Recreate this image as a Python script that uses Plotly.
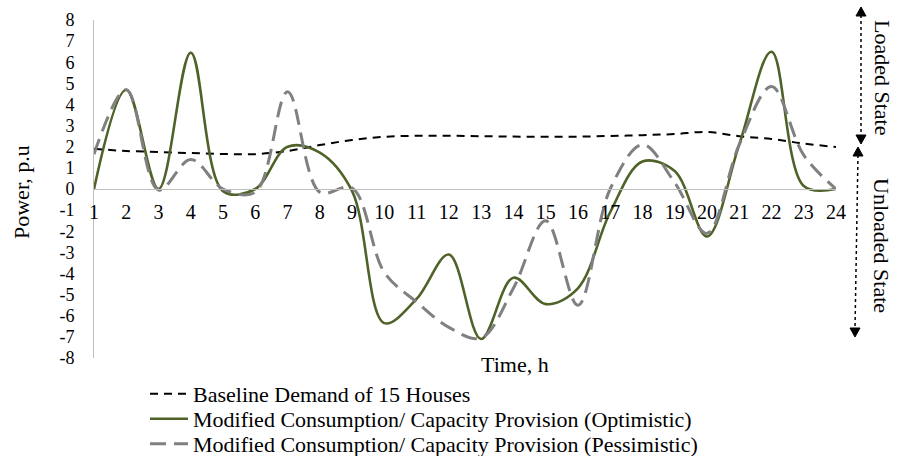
import plotly.graph_objects as go

# Hourly profile, 24 h
hours = list(range(1, 25))

baseline = [1.9, 1.8, 1.75, 1.7, 1.66, 1.65, 1.8, 2.08, 2.32, 2.47, 2.52, 2.52,
            2.5, 2.48, 2.47, 2.48, 2.51, 2.55, 2.6, 2.7, 2.5, 2.37, 2.15, 1.99]

optimistic = [0.0, 4.7, 0.0, 6.45, -0.1, 0.0, 2.0, 1.72, -0.1, -6.35, -5.2, -3.1,
              -7.1, -4.2, -5.45, -4.7, -1.1, 1.3, 0.85, -2.25, 2.1, 6.5, 0.14, 0.0]

pessimistic = [1.65, 4.7, -0.05, 1.4, 0.0, -0.15, 4.6, -0.15, 0.05, -3.95, -5.35, -6.55,
               -7.05, -4.7, -1.5, -5.5, 0.0, 2.1, 0.3, -2.1, 2.1, 4.85, 1.6, 0.0]

names = ["Baseline Demand of 15 Houses",
         "Modified Consumption/ Capacity Provision (Optimistic)",
         "Modified Consumption/ Capacity Provision (Pessimistic)"]

y_ticks = list(range(-8, 9))

W, H = 897, 456
ML, MR, MT, MB = 94, 61, 20, 98
PW, PH = W - ML - MR, H - MT - MB
FONT = "Liberation Serif, Times New Roman, serif"


def px(x):
    return (x - ML) / PW


def py(y):
    return (H - MB - y) / PH


fig = go.Figure()
fig.add_trace(go.Scatter(x=hours, y=baseline, name=names[0], mode="lines",
                         line=dict(color="#000000", width=2, dash="8px,6px",
                                   shape="spline", smoothing=1),
                         legend="legend"))
fig.add_trace(go.Scatter(x=hours, y=optimistic, name=names[1], mode="lines",
                         line=dict(color="#4f6228", width=2.6,
                                   shape="spline", smoothing=1),
                         legend="legend2"))
fig.add_trace(go.Scatter(x=hours, y=pessimistic, name=names[2], mode="lines",
                         line=dict(color="#808080", width=3, dash="16px,8px",
                                   shape="spline", smoothing=1),
                         legend="legend3"))

legend_common = dict(font=dict(family=FONT, size=22, color="#000000"),
                     bgcolor="rgba(0,0,0,0)", xanchor="left", yanchor="middle",
                     itemwidth=38, tracegroupgap=0)
legend_x = px(145)

shapes = []
# double-headed dotted arrows marking the loaded / unloaded regions
arrows = [((861, 7), (861, 144)), ((858, 147), (855, 337))]
for (x0, y0), (x1, y1) in arrows:
    shapes.append(dict(type="line", xref="paper", yref="paper",
                       x0=px(x0), y0=py(y0 + 8), x1=px(x1), y1=py(y1 - 8),
                       line=dict(color="#000000", width=1.5, dash="dot")))
    for (tx, ty, d) in [(x0, y0, 1), (x1, y1, -1)]:
        path = (f"M {px(tx)},{py(ty)} L {px(tx - 5)},{py(ty + 9 * d)} "
                f"L {px(tx + 5)},{py(ty + 9 * d)} Z")
        shapes.append(dict(type="path", xref="paper", yref="paper", path=path,
                           fillcolor="#000000", line=dict(color="#000000", width=1)))

annotations = [
    dict(text="Power, p.u", x=px(22), y=py(192), textangle=-90),
    dict(text="Time, h", x=px(515), y=py(364)),
    dict(text="Loaded State", x=px(883), y=py(77), textangle=90),
    dict(text="Unloaded State", x=px(882), y=py(245), textangle=90),
]
for a in annotations:
    a.update(xref="paper", yref="paper", showarrow=False,
             xanchor="center", yanchor="middle",
             font=dict(family=FONT, size=22, color="#000000"))

fig.update_layout(
    width=W, height=H,
    margin=dict(l=ML, r=MR, t=MT, b=MB, autoexpand=False),
    paper_bgcolor="#ffffff", plot_bgcolor="#ffffff",
    font=dict(family=FONT, size=20, color="#000000"),
    showlegend=True,
    legend=dict(x=legend_x, y=py(394), **legend_common),
    legend2=dict(x=legend_x, y=py(419), **legend_common),
    legend3=dict(x=legend_x, y=py(444), **legend_common),
    shapes=shapes,
    annotations=annotations,
    xaxis=dict(range=[1, 24], tickvals=hours, ticktext=[str(h) for h in hours],
               anchor="free", position=0.5, showline=True, linecolor="#bfbfbf",
               linewidth=1, showgrid=False, zeroline=False, ticks="",
               ticklabelstandoff=5,
               tickfont=dict(family=FONT, size=20, color="#000000")),
    yaxis=dict(range=[-8, 8], tickvals=y_ticks, ticktext=[str(v) for v in y_ticks],
               showline=True, linecolor="#bfbfbf", linewidth=1,
               showgrid=False, zeroline=False, ticks="",
               ticklabelstandoff=15,
               tickfont=dict(family=FONT, size=18, color="#000000")),
)

fig.write_html("out.html")
